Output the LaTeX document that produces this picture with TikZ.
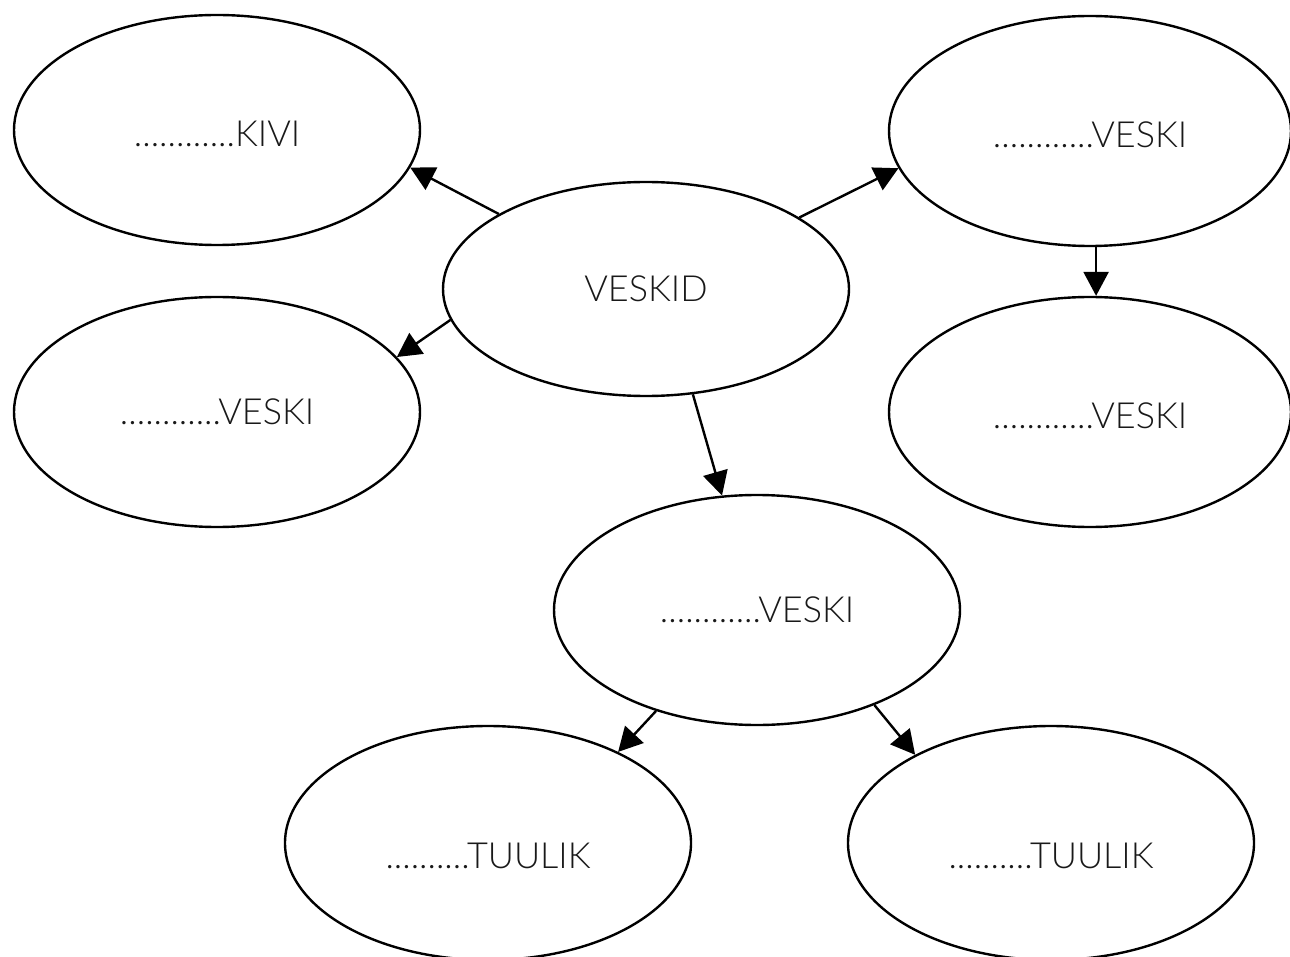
\documentclass[tikz,border=0pt]{standalone}
\usepackage{fontspec}
\setmainfont{Lato}[UprightFont=* Light]
\usetikzlibrary{shapes.geometric,arrows.meta,calc}
\newcommand{\lowtxt}[2]{\raisebox{-\dimexpr 13pt+#1pt\relax}[0pt][0pt]{#2}}
\begin{document}
\begin{tikzpicture}[x=1pt,y=-1pt,
  oval/.style={ellipse,draw,line width=2.4pt,inner sep=0pt,
    minimum width=406pt,minimum height=230pt,
    font=\fontsize{36}{36}\selectfont,text=black!90},
  conn/.style={line width=2.4pt,-{Triangle[length=24pt,width=25pt]}}]
\useasboundingbox (0,0) rectangle (1290,957);
\node[oval] (kivi) at (217,130) {\lowtxt{4}{............KIVI}};
\node[oval] (lv) at (217,412) {............VESKI};
\node[oval,minimum height=214pt] (v) at (646,289) {VESKID};
\node[oval,minimum width=402pt] (tr) at (1090,131) {\lowtxt{4}{............VESKI}};
\node[oval,minimum width=402pt] (r) at (1090,412) {\lowtxt{3}{............VESKI}};
\node[oval] (m) at (757,610) {............VESKI};
\node[oval,minimum height=234pt] (tl) at (488,843) {\lowtxt{12}{..........TUULIK}};
\node[oval,minimum height=234pt] (tt) at (1051,843) {\lowtxt{12}{..........TUULIK}};
\draw[conn] (v.153) -- (kivi.-11.4);
\draw[conn] (v.-171.7) -- (lv.17);
\draw[conn] (v.25) -- (tr.-169);
\draw[conn] (tr.-87) -- (r.87);
\draw[conn] (v.-66.3) -- (m.107);
\draw[conn] (m.-135.3) -- (tl.35.8);
\draw[conn] (m.-39.5) -- (tt.147.9);
\end{tikzpicture}
\end{document}
